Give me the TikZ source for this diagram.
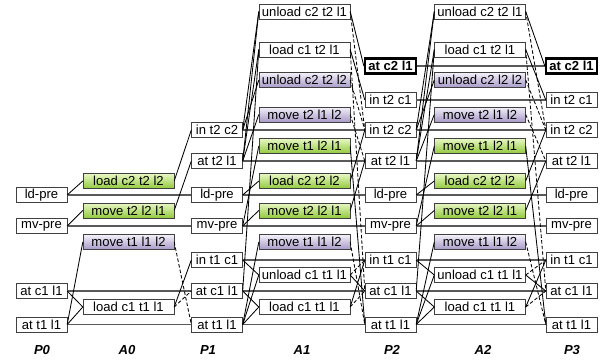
\documentclass[tikz,border=0pt]{standalone}
\usepackage{fontspec}
\setmainfont{Liberation Sans}

\definecolor{gtop}{RGB}{232,247,196}
\definecolor{gbot}{RGB}{146,202,62}
\definecolor{ptop}{RGB}{243,240,249}
\definecolor{pbot}{RGB}{168,154,200}

\tikzset{
  fact/.style={draw=black!75, fill=white, minimum width=1.27cm, minimum height=0.37cm,
    inner sep=0pt, font=\fontsize{9.3}{10}\selectfont},
  act/.style={fact, minimum width=2.27cm},
  addact/.style={act, top color=gtop, bottom color=gbot},
  delact/.style={act, top color=ptop, bottom color=pbot},
  goal/.style={fact, draw=black, line width=1.8pt, font=\fontsize{9.3}{10}\selectfont\bfseries},
  noop/.style={black!65, line width=0.9pt},
  pre/.style={black, line width=0.6pt},
  add/.style={pre},
  del/.style={pre, dash pattern=on 2.5pt off 1.5pt},
  layer/.style={font=\fontsize{9.3}{10}\selectfont\bfseries\itshape}
}

\begin{document}
\begin{tikzpicture}[x=0.025cm, y=-0.025cm]
  \useasboundingbox (0,0) rectangle (606,360);

  % P0
  \node[fact] (p0-ldpre) at (41.5,195) {ld-pre};
  \node[fact] (p0-mvpre) at (41.5,226) {mv-pre};
  \node[fact] (p0-atc1l1) at (41.5,291) {at c1 l1};
  \node[fact] (p0-att1l1) at (41.5,324.5) {at t1 l1};

  % A0
  \node[addact] (a0-ldc2t2l2) at (128.5,181) {load c2 t2 l2};
  \node[addact] (a0-mvt2l2l1) at (128.5,210.5) {move t2 l2 l1};
  \node[delact] (a0-mvt1l1l2) at (128.5,242) {move t1 l1 l2};
  \node[act] (a0-ldc1t1l1) at (128.5,307) {load c1 t1 l1};

  % P1, P2, P3
  \foreach \i/\x in {1/217, 2/390.5, 3/571.5} {
    \node[fact] (p\i-int2c2) at (\x,130) {in t2 c2};
    \node[fact] (p\i-att2l1) at (\x,161) {at t2 l1};
    \node[fact] (p\i-ldpre) at (\x,195) {ld-pre};
    \node[fact] (p\i-mvpre) at (\x,226) {mv-pre};
    \node[fact] (p\i-int1c1) at (\x,260) {in t1 c1};
    \node[fact] (p\i-atc1l1) at (\x,291) {at c1 l1};
    \node[fact] (p\i-att1l1) at (\x,324.5) {at t1 l1};
  }
  \foreach \i/\x in {2/390.5, 3/571.5} {
    \node[goal] (p\i-atc2l1) at (\x,66) {at c2 l1};
    \node[fact] (p\i-int2c1) at (\x,100) {in t2 c1};
  }

  % A1, A2
  \foreach \i/\x/\lab in {1/304.5/unload c2 t2 l2, 2/480/unload c2 l2 l2} {
    \node[act] (a\i-unlc2t2l1) at (\x,11.5) {unload c2 t2 l1};
    \node[act] (a\i-ldc1t2l1) at (\x,49.5) {load c1 t2 l1};
    \node[delact] (a\i-unlc2t2l2) at (\x,80) {\lab};
    \node[delact] (a\i-mvt2l1l2) at (\x,114.5) {move t2 l1 l2};
    \node[addact] (a\i-mvt1l2l1) at (\x,146) {move t1 l2 l1};
    \node[addact] (a\i-ldc2t2l2) at (\x,181) {load c2 t2 l2};
    \node[addact] (a\i-mvt2l2l1) at (\x,210.5) {move t2 l2 l1};
    \node[delact] (a\i-mvt1l1l2) at (\x,242) {move t1 l1 l2};
    \node[act] (a\i-unlc1t1l1) at (\x,275) {unload c1 t1 l1};
    \node[act] (a\i-ldc1t1l1) at (\x,307) {load c1 t1 l1};
  }

  % no-ops
  \foreach \f in {ldpre,mvpre,atc1l1,att1l1}
    \draw[noop] (p0-\f) -- (p1-\f);
  \foreach \f in {int2c2,att2l1,ldpre,mvpre,int1c1,atc1l1,att1l1}
    \draw[noop] (p1-\f) -- (p2-\f);
  \foreach \f in {atc2l1,int2c1,int2c2,att2l1,ldpre,mvpre,int1c1,atc1l1,att1l1}
    \draw[noop] (p2-\f) -- (p3-\f);

  % level 0
  \foreach \f/\a in {ldpre/ldc2t2l2, mvpre/mvt2l2l1, att1l1/mvt1l1l2, atc1l1/ldc1t1l1, att1l1/ldc1t1l1}
    \draw[pre] (p0-\f.east) -- (a0-\a.west);
  \foreach \a/\f in {ldc2t2l2/int2c2, mvt2l2l1/att2l1, ldc1t1l1/int1c1}
    \draw[add] (a0-\a.east) -- (p1-\f.west);
  \foreach \a/\f in {mvt1l1l2/att1l1, ldc1t1l1/atc1l1}
    \draw[del] (a0-\a.east) -- (p1-\f.west);

  % levels 1 and 2
  \foreach \i/\j in {1/2, 2/3} {
    \foreach \f/\a in {int2c2/unlc2t2l1, att2l1/unlc2t2l1, atc1l1/ldc1t2l1, att2l1/ldc1t2l1,
        int2c2/unlc2t2l2, att2l1/mvt2l1l2, mvpre/mvt1l2l1, ldpre/ldc2t2l2, mvpre/mvt2l2l1,
        att1l1/mvt1l1l2, int1c1/unlc1t1l1, att1l1/unlc1t1l1, atc1l1/ldc1t1l1, att1l1/ldc1t1l1}
      \draw[pre] (p\i-\f.east) -- (a\i-\a.west);
    \foreach \a/\f in {unlc2t2l1/atc2l1, ldc1t2l1/int2c1, mvt1l2l1/att1l1, ldc2t2l2/int2c2,
        mvt2l2l1/att2l1, unlc1t1l1/atc1l1, ldc1t1l1/int1c1}
      \draw[add] (a\i-\a.east) -- (p\j-\f.west);
    \foreach \a/\f in {unlc2t2l1/int2c2, ldc1t2l1/atc1l1, unlc2t2l2/int2c2, mvt2l1l2/att2l1,
        mvt1l1l2/att1l1, unlc1t1l1/int1c1, ldc1t1l1/atc1l1}
      \draw[del] (a\i-\a.east) -- (p\j-\f.west);
  }

  % layer names
  \foreach \t/\x in {P0/42, A0/127, P1/208, A1/302, P2/392, A2/483, P3/572}
    \node[layer] (lab\t) at (\x,350) {\t};
\end{tikzpicture}
\end{document}
